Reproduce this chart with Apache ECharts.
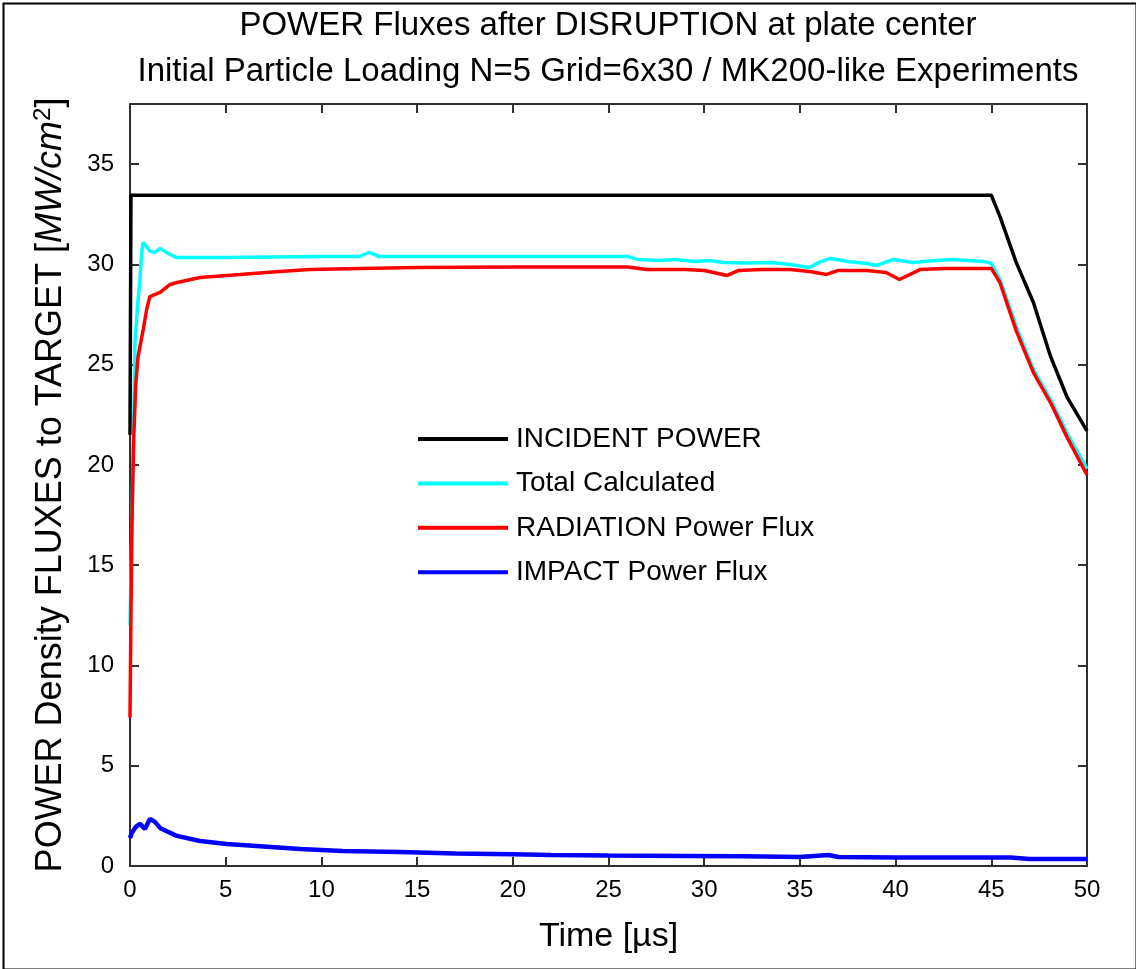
<!DOCTYPE html>
<html>
<head>
<meta charset="utf-8">
<script src="https://cdn.jsdelivr.net/npm/echarts@6/dist/echarts.min.js"></script>
<style>
html,body{margin:0;padding:0;background:#fff;}
#c{width:1136px;height:969px;}
</style>
</head>
<body>
<div id="c"></div>
<script>
// ---- data ----
const titleLines = ['POWER Fluxes after DISRUPTION at plate center',
  'Initial Particle Loading N=5 Grid=6x30 / MK200-like Experiments'];
const seriesNames = ['INCIDENT POWER', 'Total Calculated', 'RADIATION Power Flux', 'IMPACT Power Flux'];
const xTicks = [0, 5, 10, 15, 20, 25, 30, 35, 40, 45, 50];
const yTicks = [0, 5, 10, 15, 20, 25, 30, 35];

const incT = [0, 0.05, 45, 45.45, 46.3, 47.2, 48.1, 48.95, 50];
const incV = [21.5, 33.45, 33.45, 32.4, 30.1, 28.1, 25.4, 23.4, 21.7];

const totT = [0, 0.1, 0.26, 0.4, 0.52, 0.6, 0.68, 0.85, 1.05, 1.3, 1.57, 1.9, 2.4, 5, 10, 12, 12.5, 13, 20, 26, 26.5, 27.7, 28.5, 29.5, 30.3, 31, 32.2, 33.5, 34.5, 35.5, 36, 36.6, 37.5, 38.5, 39, 39.9, 40.9, 42.1, 43, 44.6, 45, 45.45, 46.3, 47.2, 48.1, 48.95, 50];
const totV = [12, 17, 26.1, 28, 29.25, 30.5, 31.1, 30.9, 30.65, 30.6, 30.8, 30.6, 30.35, 30.35, 30.4, 30.4, 30.6, 30.4, 30.4, 30.4, 30.25, 30.2, 30.25, 30.15, 30.2, 30.1, 30.07, 30.1, 30.0, 29.85, 30.1, 30.3, 30.15, 30.05, 29.95, 30.25, 30.1, 30.2, 30.25, 30.15, 30.05, 29.25, 26.9, 24.75, 23.25, 21.6, 19.8];

const radT = [0, 0.05, 0.1, 0.2, 0.3, 0.42, 0.7, 0.87, 1.04, 1.57, 2.1, 2.46, 3.66, 5.75, 7.8, 9.4, 12, 15, 20, 26, 27, 29, 30, 31.2, 31.8, 33, 34.5, 35.5, 36.4, 37, 38.5, 39.5, 40.2, 41.3, 42.5, 44, 45, 45.45, 46.3, 47.2, 48.1, 48.95, 50];
const radV = [7.4, 12.5, 17, 21.5, 24, 25.4, 26.8, 27.75, 28.4, 28.6, 29.0, 29.1, 29.35, 29.5, 29.65, 29.75, 29.8, 29.85, 29.87, 29.87, 29.75, 29.75, 29.7, 29.45, 29.7, 29.75, 29.75, 29.65, 29.5, 29.7, 29.7, 29.6, 29.25, 29.75, 29.8, 29.8, 29.8, 29.1, 26.7, 24.6, 23.1, 21.4, 19.5];

const impT = [0, 0.09, 0.3, 0.52, 0.78, 1.04, 1.3, 1.57, 2.0, 2.45, 3.66, 5.05, 6.6, 8.9, 11.1, 14.1, 17, 20, 22, 25, 29, 32, 35, 36.5, 37, 40, 43, 46, 47, 50];
const impV = [1.4, 1.65, 1.95, 2.1, 1.85, 2.35, 2.2, 1.9, 1.7, 1.5, 1.25, 1.1, 1.0, 0.85, 0.75, 0.7, 0.62, 0.58, 0.55, 0.52, 0.5, 0.48, 0.45, 0.55, 0.45, 0.42, 0.42, 0.42, 0.35, 0.35];

const colors = ['#000000', '#00ffff', '#ff0000', '#0000ff'];

// ---- chart ----
const zip = (t, v) => t.map((x, i) => [x, v[i]]);
const FONT = "'Liberation Sans', Arial, sans-serif";
const AX = '#303030';

const chart = echarts.init(document.getElementById('c'), null, {renderer: 'canvas'});
const mkSeries = (name, t, v, i) => ({
  name, type: 'line', data: zip(t, v), symbol: 'none', showSymbol: false,
  lineStyle: {color: colors[i], width: i === 3 ? 4.5 : 3.5}, itemStyle: {color: colors[i]},
  animation: false, z: 2 + i
});
const tickCfg = {show: true, inside: false, length: -9, lineStyle: {color: AX, width: 2}};

chart.setOption({
  backgroundColor: '#ffffff',
  animation: false,
  title: {
    text: titleLines.join('\n'), left: 603, textAlign: 'center', top: -2,
    textStyle: {fontFamily: FONT, fontSize: 33, fontWeight: 'normal', color: '#000', lineHeight: 46}
  },
  legend: {
    orient: 'vertical', left: 418, top: 423, padding: 0,
    itemWidth: 90, itemHeight: 30, itemGap: 12.4,
    data: seriesNames,
    textStyle: {fontFamily: FONT, fontSize: 28, color: '#000', lineHeight: 32, padding: [0, 0, 0, 3]},
    icon: 'path://M0,0 L100,0 L100,4.4 L0,4.4 Z'
  },
  grid: {left: 130, right: 49, top: 104, bottom: 103, containLabel: false},
  xAxis: [{
    type: 'value', min: 0, max: 50, interval: 5,
    name: 'Time [µs]', nameLocation: 'middle', nameGap: 54,
    nameTextStyle: {fontFamily: FONT, fontSize: 34, color: '#000'},
    axisLine: {show: true, onZero: false, lineStyle: {color: AX, width: 2}},
    axisTick: tickCfg,
    axisLabel: {fontFamily: FONT, fontSize: 24, color: '#000', margin: 12,
      formatter: v => xTicks.includes(v) ? String(v) : ''},
    splitLine: {show: false}
  }, {
    type: 'value', position: 'top', min: 0, max: 50, interval: 5,
    axisLine: {show: true, onZero: false, lineStyle: {color: AX, width: 2}},
    axisTick: tickCfg,
    axisLabel: {show: false}, splitLine: {show: false}
  }],
  yAxis: [{
    type: 'value', min: 0, max: 38, interval: 5,
    name: '{a|POWER Density FLUXES to TARGET [}{i|MW/cm}{s|2}{a|]}',
    nameLocation: 'middle', nameGap: 59,
    nameTextStyle: {
      rich: {
        a: {fontFamily: FONT, fontSize: 36, color: '#000'},
        i: {fontFamily: FONT, fontSize: 36, color: '#000', fontStyle: 'italic'},
        s: {fontFamily: FONT, fontSize: 24, color: '#000', verticalAlign: 'top', padding: [0, 0, 16, 0]}
      }
    },
    axisLine: {show: true, onZero: false, lineStyle: {color: AX, width: 2}},
    axisTick: tickCfg,
    axisLabel: {fontFamily: FONT, fontSize: 24, color: '#000', margin: 16, showMaxLabel: false,
      formatter: v => yTicks.includes(v) ? String(v) : ''},
    splitLine: {show: false}
  }, {
    type: 'value', position: 'right', min: 0, max: 38, interval: 5,
    axisLine: {show: true, onZero: false, lineStyle: {color: AX, width: 2}},
    axisTick: tickCfg,
    axisLabel: {show: false}, splitLine: {show: false}
  }],
  graphic: [{
    type: 'rect', left: 1, top: 1, silent: true, z: 100,
    shape: {width: 1133, height: 966},
    style: {fill: 'none', stroke: '#000', lineWidth: 2}
  }],
  series: [
    mkSeries(seriesNames[0], incT, incV, 0),
    mkSeries(seriesNames[1], totT, totV, 1),
    mkSeries(seriesNames[2], radT, radV, 2),
    mkSeries(seriesNames[3], impT, impV, 3),
    {type: 'line', xAxisIndex: 1, yAxisIndex: 1, data: [], symbol: 'none', silent: true}
  ]
});
</script>
</body>
</html>
